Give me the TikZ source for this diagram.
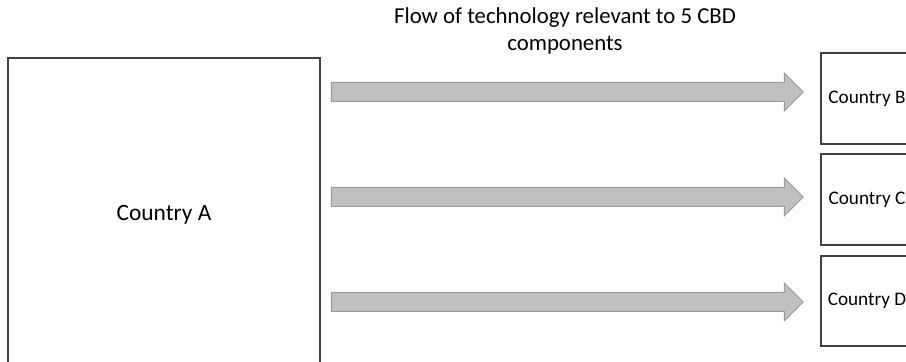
\documentclass[tikz,border=0pt]{standalone}
\usepackage{fontspec}
\setmainfont{Carlito}
\usetikzlibrary{shapes.arrows}

\definecolor{flowgray}{HTML}{C0C0C0}
\definecolor{flowedge}{HTML}{9A9A9A}
\definecolor{boxedge}{HTML}{404040}

\tikzset{
  ctybox/.style={draw=boxedge, line width=0.6pt, inner sep=0pt},
  smallbox/.style={ctybox, minimum width=46pt, minimum height=45.5pt,
    font=\fontsize{9.6}{11}\selectfont},
  flowarrow/.style={single arrow, draw=flowedge, fill=flowgray, line width=0.5pt,
    inner xsep=0pt, inner ysep=4.5pt, minimum width=18.5pt,
    single arrow head extend=4.75pt, minimum height=236pt, shape border rotate=0}
}

\begin{document}
\begin{tikzpicture}[x=0.5pt,y=-0.5pt]
 \useasboundingbox (0,0) rectangle (906,362);
 \clip (0,0) rectangle (906,362);

 \node (title) at (565,31) [align=center, font=\fontsize{11.4}{13.5}\selectfont] {Flow of technology relevant to 5 CBD\\components};

 \node[ctybox, minimum width=156pt, minimum height=157pt, font=\fontsize{11.7}{14}\selectfont] (ctyA) at (164,215) {Country A};

 \node[smallbox] (ctyB) at (867,98.5) {Country B};
 \node[smallbox] (ctyC) at (867,199.5) {Country C};
 \node[smallbox, minimum height=45pt] (ctyD) at (867,301) {Country D};

 \node[flowarrow] (flowB) at (562.5,92) {};
 \node[flowarrow] (flowC) at (562.5,197) {};
 \node[flowarrow] (flowD) at (562.5,302) {};

\end{tikzpicture}
\end{document}
